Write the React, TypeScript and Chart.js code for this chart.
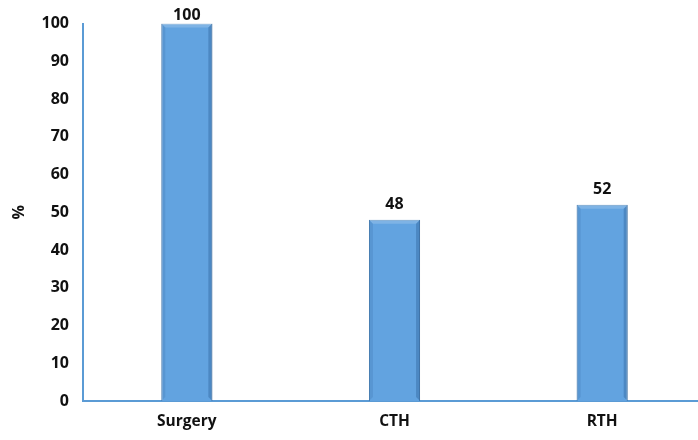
import React, { useEffect, useRef } from "react";
import { Chart, registerables } from "chart.js";

Chart.register(...registerables);

const categories = ["Surgery", "CTH", "RTH"];
const values = [100, 48, 52];
const yTicks = [0, 10, 20, 30, 40, 50, 60, 70, 80, 90, 100];

const FONT = "'Open Sans', Lato, 'Liberation Sans', sans-serif";

const valueLabels = {
  id: "valueLabels",
  afterDatasetsDraw(chart: any) {
    const ctx = chart.ctx;
    const meta = chart.getDatasetMeta(0);
    ctx.save();
    ctx.font = `bold 16px ${FONT}`;
    ctx.fillStyle = "#111";
    ctx.textAlign = "center";
    ctx.textBaseline = "bottom";
    meta.data.forEach((bar: any, i: number) => {
      const off = values[i] >= 100 ? 0 : 7;
      ctx.fillText(String(values[i]), bar.x, bar.y - off);
    });
    ctx.restore();
  },
};

const bevel = {
  id: "bevel",
  afterDatasetsDraw(chart: any) {
    const ctx = chart.ctx;
    const meta = chart.getDatasetMeta(0);
    ctx.save();
    meta.data.forEach((bar: any) => {
      const l = bar.x - bar.width / 2;
      const r = bar.x + bar.width / 2;
      const t = bar.y;
      const b = bar.base;
      const s = 4;
      ctx.fillStyle = "rgba(255,255,255,0.18)";
      ctx.beginPath();
      ctx.moveTo(l, t);
      ctx.lineTo(r, t);
      ctx.lineTo(r - s, t + s);
      ctx.lineTo(l + s, t + s);
      ctx.closePath();
      ctx.fill();
      ctx.fillStyle = "rgba(0,40,90,0.22)";
      ctx.beginPath();
      ctx.moveTo(r, t);
      ctx.lineTo(r, b);
      ctx.lineTo(r - s, b - s);
      ctx.lineTo(r - s, t + s);
      ctx.closePath();
      ctx.fill();
      ctx.fillStyle = "rgba(0,40,90,0.1)";
      ctx.beginPath();
      ctx.moveTo(l, t);
      ctx.lineTo(l, b);
      ctx.lineTo(l + s, b - s);
      ctx.lineTo(l + s, t + s);
      ctx.closePath();
      ctx.fill();
    });
    ctx.restore();
  },
};

export default function App() {
  const ref = useRef<HTMLCanvasElement>(null);
  useEffect(() => {
    if (!ref.current) return;
    const chart = new Chart(ref.current, {
      type: "bar",
      data: {
        labels: categories,
        datasets: [
          {
            data: values,
            backgroundColor: "#62a3e0",
            borderColor: "#4a82b8",
            borderWidth: 1,
            barPercentage: 0.246,
            categoryPercentage: 1,
          },
        ],
      },
      options: {
        animation: false,
        responsive: false,
        maintainAspectRatio: false,
        layout: { padding: { top: 23, right: 6, left: 0, bottom: 0 } },
        plugins: { legend: { display: false }, tooltip: { enabled: false } },
        scales: {
          x: {
            grid: { display: false, drawTicks: false },
            border: { display: true, color: "#5b9bd5", width: 2 },
            ticks: {
              padding: 11,
              color: "#111",
              font: { family: FONT, weight: "bold", size: 15.5 },
            },
            afterFit(scale: any) {
              scale.height = 39;
            },
          },
          y: {
            min: 0,
            max: 100,
            grid: { display: false, drawTicks: false },
            border: { display: true, color: "#5b9bd5", width: 2 },
            afterBuildTicks(scale: any) {
              scale.ticks = yTicks.map((v) => ({ value: v }));
            },
            ticks: {
              padding: 14,
              color: "#111",
              font: { family: FONT, weight: "bold", size: 16 },
            },
            title: {
              display: true,
              text: "%",
              color: "#111",
              padding: { top: 10, bottom: 0 },
              font: { family: FONT, weight: "bold", size: 16 },
            },
            afterFit(scale: any) {
              scale.width = 83;
            },
          },
        },
      },
      plugins: [bevel, valueLabels],
    });
    return () => chart.destroy();
  }, []);
  return (
    <div
      style={{
        position: "fixed",
        left: 0,
        top: 0,
        width: 698,
        height: 440,
        overflow: "hidden",
        background: "#fff",
      }}
    >
      <canvas ref={ref} width={712} height={440} style={{ width: 712, height: 440 }} />
    </div>
  );
}
